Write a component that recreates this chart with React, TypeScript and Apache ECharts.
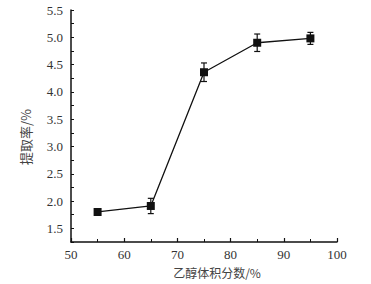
import React, { useEffect, useRef } from "react";
import * as echarts from "echarts";

const ethanol = [55, 65, 75, 85, 95];
const yieldRate = [1.8, 1.91, 4.36, 4.9, 4.98];
const errors = [0.05, 0.14, 0.17, 0.16, 0.11];
const xTitle = "乙醇体积分数/%";
const yTitle = "提取率/%";

export default function App() {
  const ref = useRef<HTMLDivElement>(null);
  useEffect(() => {
    const chart = echarts.init(ref.current!, null, { renderer: "svg" });
    const numFont = "'Liberation Serif', 'DejaVu Serif', serif";
    const cjkFont = "'Noto Sans CJK SC', sans-serif";
    chart.setOption({
      animation: false,
      backgroundColor: "#fff",
      grid: { left: 71, right: 34, top: 10, bottom: 42 },
      xAxis: {
        type: "value",
        min: 50,
        max: 100,
        interval: 10,
        name: xTitle,
        nameLocation: "middle",
        nameGap: 24,
        nameTextStyle: { fontFamily: cjkFont, fontSize: 12, color: "#444", padding: [0, 0, 0, 26] },
        axisLine: { show: true, lineStyle: { color: "#111", width: 1.5 } },
        axisTick: { show: true, inside: true, length: 4, lineStyle: { color: "#111", width: 1.2 } },
        minorTick: { show: true, splitNumber: 2, length: 3, lineStyle: { color: "#111", width: 1 } },
        axisLabel: { fontFamily: numFont, fontSize: 13, color: "#333", margin: 6 },
        splitLine: { show: false },
      },
      yAxis: {
        type: "value",
        min: 1.25,
        max: 5.5,
        interval: 0.25,
        name: yTitle,
        nameLocation: "middle",
        nameGap: 39,
        nameRotate: 90,
        nameTextStyle: { fontFamily: cjkFont, fontSize: 13, color: "#444", padding: [0, 22, 0, 0] },
        axisLine: { show: true, lineStyle: { color: "#111", width: 1.5 } },
        axisTick: { show: true, inside: true, length: 3, lineStyle: { color: "#111", width: 1 } },
        axisLabel: {
          fontFamily: numFont,
          fontSize: 13,
          color: "#333",
          margin: 8,
          formatter: (v: number) =>
            Math.abs(v * 2 - Math.round(v * 2)) < 1e-6 ? v.toFixed(1) : "",
        },
        splitLine: { show: false },
      },
      series: [
        {
          type: "line",
          data: ethanol.map((x, i) => [x, yieldRate[i]]),
          symbol: "rect",
          symbolSize: 8,
          itemStyle: { color: "#111" },
          lineStyle: { color: "#111", width: 1.3 },
          z: 3,
        },
        {
          type: "custom",
          data: ethanol.map((x, i) => [x, yieldRate[i] - errors[i], yieldRate[i] + errors[i]]),
          renderItem: (params: any, api: any) => {
            const x = api.value(0);
            const lo = api.coord([x, api.value(1)]);
            const hi = api.coord([x, api.value(2)]);
            const w = 3;
            const style = { stroke: "#111", lineWidth: 1.2 };
            return {
              type: "group",
              children: [
                { type: "line", shape: { x1: lo[0], y1: lo[1], x2: hi[0], y2: hi[1] }, style },
                { type: "line", shape: { x1: lo[0] - w, y1: lo[1], x2: lo[0] + w, y2: lo[1] }, style },
                { type: "line", shape: { x1: hi[0] - w, y1: hi[1], x2: hi[0] + w, y2: hi[1] }, style },
              ],
            };
          },
          z: 2,
        },
      ],
    });
    return () => chart.dispose();
  }, []);
  return (
    <div
      ref={ref}
      style={{ position: "fixed", left: 0, top: 0, width: 371, height: 284 }}
    />
  );
}
